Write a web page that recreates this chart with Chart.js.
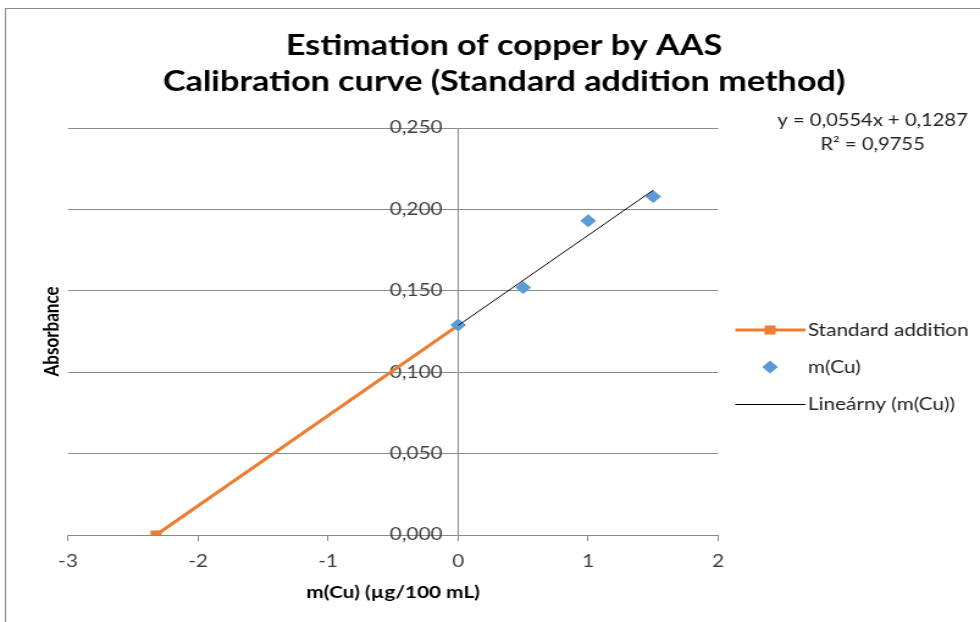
<!DOCTYPE html>
<html>
<head>
<meta charset="utf-8">
<script src="https://cdn.jsdelivr.net/npm/chart.js@4"></script>
<style>
  body { margin: 0; background: #fff; overflow: hidden; }
  /* the original picture is stretched sideways, so the canvas is too */
  #wrap { width: 803px; height: 622px; transform: scaleX(1.2204); transform-origin: 0 0; }
</style>
</head>
<body>
<div id="wrap"><canvas id="chart" width="803" height="622"></canvas></div>
<script>
/* ------------------------------------------------ */

const titleLines = ['Estimation of copper by AAS', 'Calibration curve (Standard addition method)'];
const xTitle = 'm(Cu) (µg/100 mL)';
const yTitle = 'Absorbance';
const equationLines = ['y = 0,0554x + 0,1287', 'R² = 0,9755'];
const legendLabels = ['Standard addition', 'm(Cu)', 'Lineárny (m(Cu))'];

const stdAddX = [-2.323, 0];
const stdAddY = [0, 0.1287];
const cuX = [0, 0.5, 1, 1.5];
const cuY = [0.129, 0.152, 0.193, 0.208];
const trendX = [0, 1.5];
const trendY = [0.1287, 0.2118];

const xMin = -3, xMax = 2, xStep = 1;
const yMin = 0, yMax = 0.25, yStep = 0.05;

const FONT = 'Lato';
const ORANGE = '#ED7D31';
const BLUE = '#5B9BD5';
const GRID = '#8a8a8a';
const TICK_COLOR = '#404040';

function toPoints(xs, ys) {
  return xs.map((x, i) => ({ x: x, y: ys[i] }));
}

/* ------------------------------------------------ */

let decorations = {
  id: 'decorations',
  beforeDraw(chart) {
    let ctx = chart.ctx;
    ctx.save();
    ctx.fillStyle = '#fff';
    ctx.fillRect(0, 0, chart.width, chart.height);
    ctx.strokeStyle = '#8c8c8c';
    ctx.lineWidth = 1;
    ctx.strokeRect(4.5, 8.5, chart.width + 20, chart.height + 20);
    ctx.restore();
  },
  afterDraw(chart) {
    let ctx = chart.ctx;
    let area = chart.chartArea;
    ctx.save();
    ctx.fillStyle = '#000';
    ctx.textAlign = 'center';
    ctx.textBaseline = 'middle';

    // title
    ctx.font = 'bold 28px ' + FONT;
    ctx.fillText(titleLines[0], 413, 46);
    ctx.fillText(titleLines[1], 413, 82);

    // axis titles
    ctx.font = 'bold 17px ' + FONT;
    ctx.fillText(xTitle, (area.left + area.right) / 2, 593);
    ctx.save();
    ctx.translate(42.5, (area.top + area.bottom) / 2);
    ctx.rotate(-Math.PI / 2);
    ctx.fillText(yTitle, 0, 0);
    ctx.restore();

    // trendline equation
    ctx.font = '16.5px ' + FONT;
    ctx.fillStyle = '#222';
    ctx.textAlign = 'right';
    ctx.fillText(equationLines[0], 793, 121);
    ctx.textAlign = 'center';
    ctx.fillText(equationLines[1], 715, 145);

    // legend
    let lx1 = 602.5, lx2 = 660, mx = 631, tx = 662;
    let rows = [330, 367, 404];

    ctx.strokeStyle = ORANGE;
    ctx.lineWidth = 3;
    ctx.beginPath();
    ctx.moveTo(lx1, rows[0]);
    ctx.lineTo(lx2, rows[0]);
    ctx.stroke();
    ctx.fillStyle = ORANGE;
    ctx.fillRect(mx - 4.5, rows[0] - 4.5, 9, 9);

    ctx.fillStyle = BLUE;
    ctx.beginPath();
    ctx.moveTo(mx, rows[1] - 6.5);
    ctx.lineTo(mx + 6.5, rows[1]);
    ctx.lineTo(mx, rows[1] + 6.5);
    ctx.lineTo(mx - 6.5, rows[1]);
    ctx.closePath();
    ctx.fill();

    ctx.strokeStyle = '#000';
    ctx.lineWidth = 1;
    ctx.beginPath();
    ctx.moveTo(lx1, rows[2] + 0.5);
    ctx.lineTo(lx2, rows[2] + 0.5);
    ctx.stroke();

    ctx.textAlign = 'left';
    ctx.font = '17px ' + FONT;
    ctx.fillStyle = '#222';
    legendLabels.forEach((label, i) => ctx.fillText(label, tx, rows[i] + 1));

    ctx.restore();
  }
};

/* ------------------------------------------------ */

function generateChart() {
  let ctx = document.getElementById('chart').getContext('2d');
  return new Chart(ctx, {
    type: 'scatter',
    data: {
      datasets: [
        {
          label: legendLabels[2],
          data: toPoints(trendX, trendY),
          showLine: true,
          borderColor: '#000',
          borderWidth: 1,
          pointRadius: 0,
          order: 0,
        },
        {
          label: legendLabels[1],
          data: toPoints(cuX, cuY),
          showLine: false,
          pointStyle: 'rectRot',
          pointRadius: 6.5,
          backgroundColor: BLUE,
          borderColor: BLUE,
          borderWidth: 0,
          order: 1,
        },
        {
          label: legendLabels[0],
          data: toPoints(stdAddX, stdAddY),
          showLine: true,
          borderColor: ORANGE,
          borderWidth: 3,
          pointStyle: 'rect',
          pointRadius: [6.4, 0],
          backgroundColor: ORANGE,
          pointBorderWidth: 0,
          order: 2,
        },
      ],
    },
    options: {
      responsive: false,
      animation: false,
      layout: { padding: { left: 55.7, right: 214.5, top: 128, bottom: 37 } },
      plugins: {
        legend: { display: false },
        title: { display: false },
        tooltip: { enabled: false },
      },
      scales: {
        x: {
          type: 'linear',
          position: 'bottom',
          min: xMin,
          max: xMax,
          afterFit: (scale) => { scale.height = 50; },
          ticks: {
            stepSize: xStep,
            padding: 10,
            color: TICK_COLOR,
            font: { family: FONT, size: 17 },
          },
          grid: {
            display: true,
            drawOnChartArea: false,
            drawTicks: true,
            tickLength: 6,
            color: GRID,
          },
          border: { display: true, color: GRID },
        },
        y: {
          type: 'linear',
          position: { x: 0 },
          min: yMin,
          max: yMax,
          ticks: {
            stepSize: yStep,
            color: TICK_COLOR,
            font: { family: FONT, size: 17 },
            // padding is ignored for an axis placed at x = 0, an em space keeps the gap
            callback: (v) => v.toFixed(3).replace('.', ',') + '\u2003',
          },
          grid: {
            color: GRID,
            drawTicks: false,
          },
          border: { display: true, color: GRID },
        },
      },
    },
    plugins: [decorations],
  });
}

let chart = generateChart();
</script>
</body>
</html>
